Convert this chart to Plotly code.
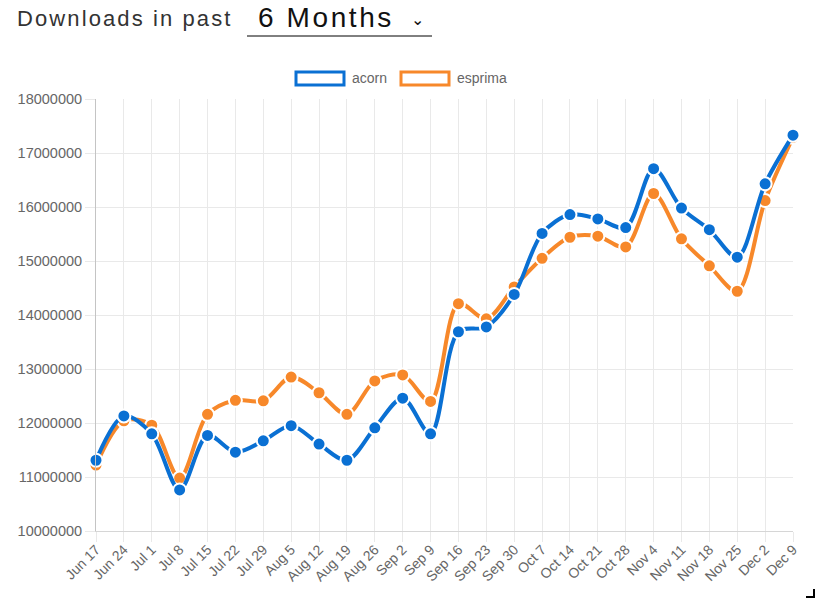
import plotly.graph_objects as go

weeks = ["Jun 17", "Jun 24", "Jul 1", "Jul 8", "Jul 15", "Jul 22", "Jul 29", "Aug 5",
         "Aug 12", "Aug 19", "Aug 26", "Sep 2", "Sep 9", "Sep 16", "Sep 23", "Sep 30",
         "Oct 7", "Oct 14", "Oct 21", "Oct 28", "Nov 4", "Nov 11", "Nov 18", "Nov 25",
         "Dec 2", "Dec 9"]

acorn = [11310000, 12130000, 11800000, 10760000, 11770000, 11460000, 11670000, 11950000,
         11610000, 11310000, 11910000, 12460000, 11800000, 13690000, 13780000, 14380000,
         15510000, 15860000, 15780000, 15620000, 16710000, 15980000, 15580000, 15070000,
         16430000, 17330000]

esprima = [11220000, 12040000, 11960000, 10980000, 12160000, 12420000, 12410000, 12850000,
           12560000, 12160000, 12780000, 12890000, 12400000, 14210000, 13930000, 14520000,
           15050000, 15440000, 15460000, 15260000, 16250000, 15410000, 14910000, 14440000,
           16120000, 17290000]

y_ticks = [10000000, 11000000, 12000000, 13000000, 14000000, 15000000, 16000000,
           17000000, 18000000]

BLUE = "#0a70d3"
ORANGE = "#f7882a"
W, H = 815, 600
# plot area in screen pixels
L, R, T, B = 96, 793, 99, 531


def px(x):
    return (x - L) / (R - L)


def py(y):
    return (B - y) / (B - T)


fig = go.Figure()
for name, vals, col in [("esprima", esprima, ORANGE), ("acorn", acorn, BLUE)]:
    fig.add_trace(go.Scatter(
        x=weeks, y=vals, name=name, mode="lines+markers",
        line=dict(color=col, width=4, shape="spline", smoothing=0.9),
        marker=dict(color=col, size=13, line=dict(color="white", width=2)),
        cliponaxis=False, showlegend=False,
    ))

grid = "#e9e9e9"
FONT = "Liberation Sans, Arial"
fig.update_xaxes(
    type="category", range=[0, len(weeks) - 1], tickangle=-45,
    showgrid=True, gridcolor=grid, gridwidth=1,
    showline=True, linecolor="#d6d6d6", linewidth=1,
    ticks="outside", ticklen=10, tickcolor=grid, ticklabelstandoff=-6,
    tickfont=dict(family=FONT, size=14, color="#666"),
    zeroline=False,
)
fig.update_yaxes(
    range=[10000000, 18000000], tickvals=y_ticks, tickformat="d",
    showgrid=True, gridcolor=grid, gridwidth=1,
    showline=True, linecolor="#c4c4c4", linewidth=1,
    ticks="outside", ticklen=10, tickcolor=grid,
    tickfont=dict(family=FONT, size=14.5, color="#666"),
    zeroline=False,
)

shapes = [
    # legend swatches
    dict(type="rect", xref="paper", yref="paper", x0=px(296), x1=px(344), y0=py(72), y1=py(85),
         line=dict(color=BLUE, width=3), fillcolor="white"),
    dict(type="rect", xref="paper", yref="paper", x0=px(401), x1=px(449), y0=py(72), y1=py(85),
         line=dict(color=ORANGE, width=3), fillcolor="white"),
    # underline of selector
    dict(type="line", xref="paper", yref="paper", x0=px(247), x1=px(432), y0=py(36), y1=py(36),
         line=dict(color="black", width=1)),
    # corner mark
    dict(type="line", xref="paper", yref="paper", x0=px(806), x1=px(815), y0=py(597), y1=py(597),
         line=dict(color="black", width=2)),
    dict(type="line", xref="paper", yref="paper", x0=px(814), x1=px(814), y0=py(589), y1=py(597),
         line=dict(color="black", width=2)),
]

annotations = [
    dict(text="acorn", xref="paper", yref="paper", x=px(350), y=py(78), xanchor="left",
         yanchor="middle", showarrow=False,
         font=dict(family=FONT, size=14, color="#666")),
    dict(text="esprima", xref="paper", yref="paper", x=px(455), y=py(78), xanchor="left",
         yanchor="middle", showarrow=False,
         font=dict(family=FONT, size=14, color="#666")),
    dict(text='<span style="letter-spacing:2.1px">Downloads in past</span>', xref="paper",
         yref="paper", x=px(15), y=py(18.3), xanchor="left", yanchor="middle", showarrow=False,
         width=232, align="left",
         font=dict(family=FONT, size=22, color="#333")),
    dict(text='<span style="letter-spacing:2.6px">6 Months</span>', xref="paper",
         yref="paper", x=px(256), y=py(0), xanchor="left", yanchor="top", showarrow=False,
         width=150, align="left",
         font=dict(family=FONT, size=28, color="#111")),
    dict(text="⌄", xref="paper", yref="paper", x=px(417), y=py(19), xanchor="center",
         yanchor="middle", showarrow=False,
         font=dict(family="DejaVu Sans", size=16, color="#111")),
]

fig.update_layout(
    width=W, height=H,
    margin=dict(l=L, r=W - R, t=T, b=H - B, autoexpand=False),
    paper_bgcolor="white", plot_bgcolor="white",
    shapes=shapes, annotations=annotations,
    font=dict(family=FONT, color="#666"),
)

fig.write_html("out.html", config={"displayModeBar": False},
               post_script="document.body.style.margin='0';")
